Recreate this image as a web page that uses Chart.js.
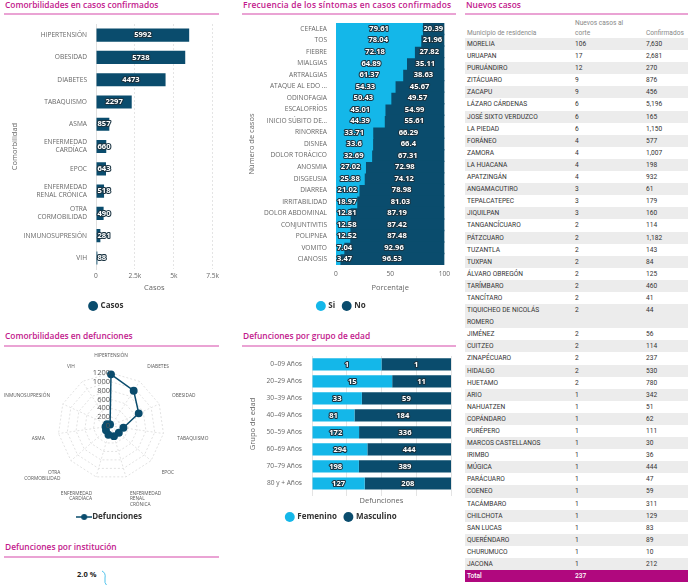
<!DOCTYPE html>
<html><head><meta charset="utf-8">
<script src="https://cdn.jsdelivr.net/npm/chart.js@4.4.1/dist/chart.umd.min.js"></script>
<style>
html,body{margin:0;padding:0;width:690px;height:585px;overflow:hidden;background:#fff;font-family:"Open Sans",sans-serif;}
.title{position:absolute;font-weight:600;font-size:8.4px;line-height:12px;color:#c2188c;white-space:nowrap;}
.rule{position:absolute;height:2px;background:#eaa3d4;}
canvas{position:absolute;}
#tbl{position:absolute;left:465px;top:16px;width:223px;font-family:Roboto,sans-serif;font-size:6.6px;color:#333;}
.row{position:relative;height:12.1px;line-height:12.1px;}
.row.alt{background:#ececec;}
.row span{position:absolute;top:0;}
.c1{left:2px;width:105px;}
.c2{left:110px;}
.c3{left:181px;}
.hdr{position:relative;height:22px;color:#888;}
.hdr span{position:absolute;line-height:10px;}
.total{background:#b0087e;color:#fff;font-weight:500;}
</style></head>
<body>
<div class="title" style="left:5px;top:-1px">Comorbilidades en casos confirmados</div>
<div class="rule" style="left:4px;top:13px;width:215px"></div>
<div class="title" style="left:243px;top:-1px;letter-spacing:0.2px">Frecuencia de los síntomas en casos confirmados</div>
<div class="rule" style="left:242px;top:13px;width:214px"></div>
<div class="title" style="left:466px;top:-1px">Nuevos casos</div>
<div class="rule" style="left:465px;top:13px;width:223px"></div>
<div class="title" style="left:5px;top:330px">Comorbilidades en defunciones</div>
<div class="rule" style="left:4px;top:345px;width:215px"></div>
<div class="title" style="left:243px;top:330px">Defunciones por grupo de edad</div>
<div class="rule" style="left:242px;top:345px;width:214px"></div>
<div class="title" style="left:5px;top:541px">Defunciones por institución</div>
<div class="rule" style="left:4px;top:556px;width:215px"></div>
<div style="position:absolute;left:77px;top:569px;font-size:7.5px;font-weight:700;color:#222;">2.0 %</div>
<svg style="position:absolute;left:100px;top:570px" width="12" height="16"><path d="M2 1 Q6 3 5 8 T7 16" stroke="#4fc3ec" stroke-width="1" fill="none"/></svg>

<canvas id="c1" width="222" height="302" style="left:0;top:18px"></canvas>
<canvas id="c2" width="223" height="302" style="left:232px;top:18px"></canvas>
<canvas id="c3" width="222" height="181" style="left:0;top:350px"></canvas>
<canvas id="c4" width="223" height="181" style="left:232px;top:350px"></canvas>
<div id="tbl"></div>

<script>
// ---------- DATA ----------
const comorbLabels = ['HIPERTENSIÓN','OBESIDAD','DIABETES','TABAQUISMO','ASMA',['ENFERMEDAD','CARDÍACA'],'EPOC',['ENFERMEDAD','RENAL CRÓNICA'],['OTRA','CORMOBILIDAD'],'INMUNOSUPRESIÓN','VIH'];
const comorbCasos = [5992,5738,4473,2297,857,660,643,518,490,281,88];
const casosTicks = [0,2500,5000,7500];

const sintomas = ['CEFALEA','TOS','FIEBRE','MIALGIAS','ARTRALGIAS','ATAQUE AL EDO ...','ODINOFAGIA','ESCALOFRÍOS','INICIO SÚBITO DE...','RINORREA','DISNEA','DOLOR TORÁCICO','ANOSMIA','DISGEUSIA','DIARREA','IRRITABILIDAD','DOLOR ABDOMINAL','CONJUNTIVITIS','POLIPNEA','VOMITO','CIANOSIS'];
const sintomasSi = [79.61,78.04,72.18,64.89,61.37,54.33,50.43,45.01,44.39,33.71,33.6,32.69,27.02,25.88,21.02,18.97,12.81,12.58,12.52,7.04,3.47];
const sintomasNo = [20.39,21.96,27.82,35.11,38.63,45.67,49.57,54.99,55.61,66.29,66.4,67.31,72.98,74.12,78.98,81.03,87.19,87.42,87.48,92.96,96.53];

const radarLabels = ['HIPERTENSIÓN','DIABETES','OBESIDAD','TABAQUISMO','EPOC',['ENFERMEDAD','RENAL','CRÓNICA'],['ENFERMEDAD','CARDÍACA'],['OTRA','CORMOBILIDAD'],'ASMA','INMUNOSUPRESIÓN','VIH'];
const defuncionesComorb = [1170,950,690,285,235,240,205,150,125,100,40];
const radarTicks = [0,200,400,600,800,1000,1200];

const edades = ['0–09 Años','20–29 Años','30–39 Años','40–49 Años','50–59 Años','60–69 Años','70–79 Años','80 y + Años'];
const femenino = [1,15,33,81,172,294,198,127];
const masculino = [1,11,59,184,336,444,389,208];

const municipios = ['MORELIA','URUAPAN','PURUÁNDIRO','ZITÁCUARO','ZACAPU','LÁZARO CÁRDENAS','JOSÉ SIXTO VERDUZCO','LA PIEDAD','FORÁNEO','ZAMORA','LA HUACANA','APATZINGÁN','ANGAMACUTIRO','TEPALCATEPEC','JIQUILPAN','TANGANCÍCUARO','PÁTZCUARO','TUZANTLA','TUXPAN','ÁLVARO OBREGÓN','TARÍMBARO','TANCÍTARO','TIQUICHEO DE NICOLÁS ROMERO','JIMÉNEZ','CUITZEO','ZINAPÉCUARO','HIDALGO','HUETAMO','ARIO','NAHUATZEN','COPÁNDARO','PURÉPERO','MARCOS CASTELLANOS','IRIMBO','MÚGICA','PARÁCUARO','COENEO','TACÁMBARO','CHILCHOTA','SAN LUCAS','QUERÉNDARO','CHURUMUCO','JACONA'];
const nuevos = [106,17,12,9,9,6,6,6,4,4,4,4,3,3,3,2,2,2,2,2,2,2,2,2,2,2,2,2,1,1,1,1,1,1,1,1,1,1,1,1,1,1,1];
const confirmados = ['7,630','2,681','270','876','456','5,196','165','1,150','577','1,007','198','932','61','179','160','114','1,182','143','84','125','460','41','44','56','114','237','530','780','342','51','62','111','30','36','444','47','59','311','129','83','89','10','212'];
const totalNuevos = 237;

// ---------- STYLE ----------
const DARK = '#0a4c6d', LIGHT = '#14b7e9', GRAY = '#666';
const tickFont = {family:'"Open Sans"', size:6.6};
const titleFont = {family:'"Open Sans"', size:7.5};
const legendFont = {family:'"Open Sans"', size:8, weight:'bold'};

// ---------- TABLE ----------
(function(){
  const t = document.getElementById('tbl');
  let h = '<div class="hdr"><span style="left:2px;top:12px">Municipio de residencia</span><span style="left:110px;top:2px">Nuevos casos al<br>corte</span><span style="left:181px;top:12px">Confirmados</span></div>';
  municipios.forEach((m,i)=>{
    const two = m.length > 24;
    const name = two ? 'TIQUICHEO DE NICOLÁS<br>ROMERO' : m;
    h += '<div class="row'+(i%2===0?' alt':'')+'" style="'+(two?'height:24.2px':'')+'"><span class="c1">'+name+'</span><span class="c2">'+nuevos[i]+'</span><span class="c3">'+confirmados[i]+'</span></div>';
  });
  h += '<div class="row total"><span class="c1">Total</span><span class="c2">'+totalNuevos+'</span></div>';
  t.innerHTML = h;
})();

// ---------- VALUE LABEL PLUGIN ----------
const valueLabels = {
  id:'valueLabels',
  afterDatasetsDraw(chart, args, opts){
    const ctx = chart.ctx; ctx.save();
    ctx.font = 'bold 7.6px "Open Sans"';
    ctx.textAlign='center'; ctx.textBaseline='middle';
    ctx.lineJoin='round'; ctx.lineWidth=2.2; ctx.strokeStyle='#1b3442'; ctx.fillStyle='#fff';
    chart.data.datasets.forEach((ds,i)=>{
      const meta = chart.getDatasetMeta(i);
      const src = (opts.sources && opts.sources[i]) || ds.data;
      meta.data.forEach((el,j)=>{
        const txt = String(src[j]);
        const w = ctx.measureText(txt).width;
        let x = (el.x + el.base)/2;
        const lo = Math.min(el.x, el.base);
        if (x < lo + w/2 + 1) x = lo + w/2 + 1;
        ctx.strokeText(txt, x, el.y); ctx.fillText(txt, x, el.y);
      });
    });
    ctx.restore();
  }
};

const legendBase = {position:'bottom', labels:{usePointStyle:true, pointStyle:'circle', boxWidth:7, boxHeight:7, padding:8, font:legendFont, color:'#333'}};

// ---------- CHART 1 ----------
new Chart(document.getElementById('c1'), {
  type:'bar',
  data:{labels:comorbLabels, datasets:[{label:'Casos', data:comorbCasos, backgroundColor:DARK, barPercentage:0.62, categoryPercentage:0.95}]},
  options:{
    indexAxis:'y', responsive:false, animation:false, events:[],
    layout:{padding:{top:6,right:9,left:0,bottom:0}},
    scales:{
      x:{min:0,max:7500,afterBuildTicks(s){s.ticks=casosTicks.map(v=>({value:v}));},
         ticks:{font:tickFont,color:GRAY,callback:v=>v===0?'0':(v/1000)+'k'},
         grid:{color:'#e4e4e4',drawTicks:false}, border:{display:false,dash:[2,2]},
         title:{display:true,text:'Casos',font:titleFont,color:GRAY,padding:{top:0,bottom:2}}},
      y:{ticks:{font:tickFont,color:GRAY,autoSkip:false,padding:1}, grid:{display:false}, border:{color:'#e0e0e0'},
         title:{display:true,text:'Comorbilidad',font:titleFont,color:GRAY,padding:{top:10,bottom:2}},
         afterFit(s){s.width=96;}}
    },
    plugins:{legend:legendBase, tooltip:{enabled:false}, valueLabels:{}}
  },
  plugins:[valueLabels]
});

// ---------- CHART 2 ----------
new Chart(document.getElementById('c2'), {
  type:'bar',
  data:{labels:sintomas, datasets:[
    {label:'Si', data:sintomasSi, backgroundColor:LIGHT, barPercentage:1, categoryPercentage:1, inflateAmount:0.7},
    {label:'No', data:sintomasNo, backgroundColor:DARK, barPercentage:1, categoryPercentage:1, inflateAmount:0.7}]},
  options:{
    indexAxis:'y', responsive:false, animation:false, events:[],
    layout:{padding:{top:5,right:4,left:0,bottom:0}},
    scales:{
      x:{stacked:true,min:0,max:100,ticks:{stepSize:50,font:tickFont,color:GRAY,padding:5},
         grid:{display:false,drawTicks:false}, border:{display:false},
         title:{display:true,text:'Porcentaje',font:titleFont,color:GRAY,padding:{top:0,bottom:2}}},
      y:{stacked:true,ticks:{font:tickFont,color:GRAY,autoSkip:false,padding:1}, grid:{display:false}, border:{display:false},
         title:{display:true,text:'Número de casos',font:titleFont,color:GRAY,padding:{top:15,bottom:2}},
         afterFit(s){s.width=104;}}
    },
    plugins:{legend:legendBase, tooltip:{enabled:false}, valueLabels:{}}
  },
  plugins:[valueLabels]
});

// ---------- CHART 3 (radar) ----------
const RADAR_GEOM = {cx:111, cy:76, r:53};
class FixedRadialScale extends Chart.RadialLinearScale {
  static id = 'fixedRadial';
  setCenterPoint(l, r, t, b){
    super.setCenterPoint(l, r, t, b);
    this.xCenter = RADAR_GEOM.cx; this.yCenter = RADAR_GEOM.cy; this.drawingArea = RADAR_GEOM.r;
  }
}
Chart.register(FixedRadialScale);

const radarTickLabels = {
  id:'radarTickLabels',
  afterDatasetsDraw(chart){
    const s = chart.scales.r, ctx = chart.ctx; ctx.save();
    ctx.font = '7.5px "Open Sans"'; ctx.fillStyle='#555'; ctx.textAlign='right'; ctx.textBaseline='middle';
    radarTicks.forEach(v=>{ ctx.fillText(String(v), s.xCenter - 1, s.yCenter - s.getDistanceFromCenterForValue(v)); });
    ctx.restore();
  }
};

const lineDot = document.createElement('canvas'); lineDot.width=16; lineDot.height=8;
(function(){const g=lineDot.getContext('2d'); g.strokeStyle=DARK; g.lineWidth=1.5; g.beginPath(); g.moveTo(0,4); g.lineTo(16,4); g.stroke(); g.fillStyle=DARK; g.beginPath(); g.arc(8,4,3,0,Math.PI*2); g.fill();})();
new Chart(document.getElementById('c3'), {
  type:'radar',
  data:{labels:radarLabels, datasets:[{label:'Defunciones', data:defuncionesComorb, borderColor:DARK, backgroundColor:DARK, pointBackgroundColor:DARK, pointRadius:3.2, borderWidth:1.5, fill:false}]},
  options:{
    responsive:false, animation:false, events:[],
    scales:{r:{type:'fixedRadial', min:0, max:1200,
      ticks:{stepSize:200, display:false},
      grid:{color:'#e2e2e2'}, border:{dash:[2,2]},
      angleLines:{color:'#e2e2e2',borderDash:[2,2]},
      pointLabels:{font:{family:'"Open Sans"',size:4.8},color:'#555',padding:14}}},
    plugins:{legend:{position:'bottom',labels:{usePointStyle:true,pointStyle:lineDot,font:legendFont,color:'#333',padding:8}}, tooltip:{enabled:false}}
  },
  plugins:[radarTickLabels]
});

// ---------- CHART 4 (edad) ----------
const fPct = femenino.map((v,i)=>v/(v+masculino[i])*100);
const mPct = masculino.map((v,i)=>v/(femenino[i]+v)*100);
new Chart(document.getElementById('c4'), {
  type:'bar',
  data:{labels:edades, datasets:[
    {label:'Femenino', data:fPct, backgroundColor:LIGHT, barPercentage:0.72, categoryPercentage:1},
    {label:'Masculino', data:mPct, backgroundColor:DARK, barPercentage:0.72, categoryPercentage:1}]},
  options:{
    indexAxis:'y', responsive:false, animation:false, events:[],
    layout:{padding:{top:4,right:4,left:0,bottom:0}},
    scales:{
      x:{stacked:true,min:0,max:100,ticks:{stepSize:25,display:false},
         grid:{color:'#e4e4e4',tickLength:4}, border:{display:false},
         title:{display:true,text:'Defunciones',font:titleFont,color:GRAY,padding:{top:0,bottom:0}}},
      y:{stacked:true,ticks:{font:tickFont,color:GRAY,autoSkip:false,padding:2}, grid:{display:false}, border:{display:false},
         title:{display:true,text:'Grupo de edad',font:titleFont,color:GRAY,padding:{top:16,bottom:2}},
         afterFit(s){s.width=80;}}
    },
    plugins:{legend:legendBase, tooltip:{enabled:false}, valueLabels:{sources:[femenino,masculino]}}
  },
  plugins:[valueLabels]
});
</script>
</body></html>
